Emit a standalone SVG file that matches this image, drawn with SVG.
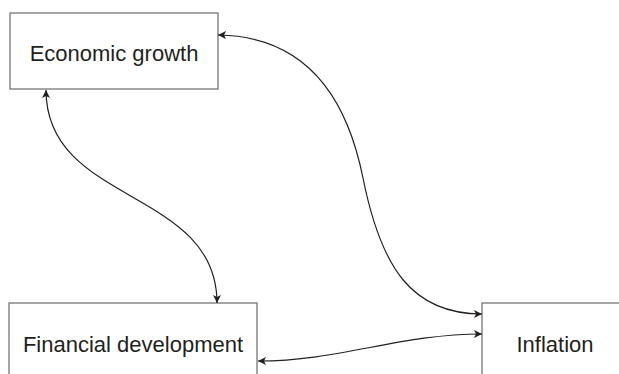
<svg xmlns="http://www.w3.org/2000/svg" width="619" height="374" viewBox="0 0 619 374">
<defs>
<style>
.box{fill:#fff;stroke:#6a6a6a;stroke-width:1.2}
.lbl{font-family:"Liberation Sans",Arial,sans-serif;font-size:22px;fill:#231f20;text-anchor:middle}
.edge{fill:none;stroke:#231f20;stroke-width:1.2}
</style>
<marker id="ah" viewBox="0 0 8 8" refX="8" refY="4" markerWidth="8" markerHeight="8" markerUnits="userSpaceOnUse" orient="auto-start-reverse">
<path d="M0,0 L8,4 L0,8 L2,4 z" fill="#231f20"/>
</marker>
</defs>
<rect width="619" height="374" fill="#fff"/>
<g id="node-economic-growth">
<rect class="box" x="10" y="13" width="208" height="76"/>
<text class="lbl" x="114" y="61">Economic growth</text>
</g>
<g id="node-financial-development">
<rect class="box" x="9" y="303" width="248" height="80"/>
<text class="lbl" x="133" y="352">Financial development</text>
</g>
<g id="node-inflation">
<rect class="box" x="482" y="303" width="150" height="80"/>
<text class="lbl" x="555" y="352">Inflation</text>
</g>
<g id="connectors">
<path class="edge" marker-start="url(#ah)" marker-end="url(#ah)" d="M218,35 C300,36 345,88 363,178 S412,314 482,314"/>
<path class="edge" marker-start="url(#ah)" marker-end="url(#ah)" d="M46,90 C46,205 217,188 217,303"/>
<path class="edge" marker-start="url(#ah)" marker-end="url(#ah)" d="M258,361 C340,361 400,334 482,334"/>
</g>
</svg>
